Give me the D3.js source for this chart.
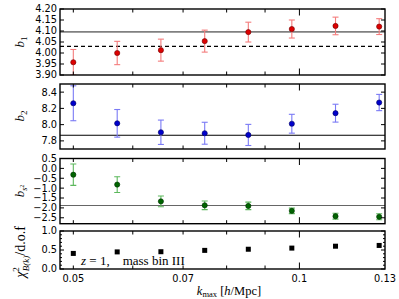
<!DOCTYPE html>
<html>
<head>
<meta charset="utf-8">
<script src="https://cdn.jsdelivr.net/npm/d3@7"></script>
<style>
  body { margin: 0; background: #fff; }
  svg { display: block; }
  .tick-label { font-family: "DejaVu Sans", sans-serif; font-size: 9.8px; fill: #000; }
  .math { font-family: "Liberation Serif", "DejaVu Serif", serif; fill: #000; }
</style>
</head>
<body>
<div id="chart"></div>
<script>
// Chart data
const kmax = [0.05, 0.0572, 0.0654, 0.0748, 0.0855, 0.0977, 0.1117, 0.1277];
const b1 = [3.958, 4.000, 4.013, 4.054, 4.095, 4.109, 4.123, 4.120];
const b1Err = [0.058, 0.053, 0.050, 0.050, 0.045, 0.041, 0.040, 0.036];
const b2 = [8.263, 8.016, 7.906, 7.894, 7.873, 8.011, 8.141, 8.272];
const b2Err = [0.215, 0.17, 0.15, 0.135, 0.13, 0.116, 0.11, 0.10];
const bs2 = [-0.32, -0.82, -1.67, -1.87, -1.90, -2.15, -2.42, -2.45];
const bs2Err = [0.54, 0.40, 0.27, 0.22, 0.19, 0.14, 0.15, 0.15];
const chi2 = [0.41, 0.45, 0.455, 0.49, 0.52, 0.55, 0.60, 0.62];

const xTickLabels = [0.05, 0.07, 0.1, 0.13];
const xMinorTicks = [0.05, 0.06, 0.07, 0.08, 0.09];
const xMajorTicks = [0.1];

const b1Ticks = [3.90, 3.95, 4.00, 4.05, 4.10, 4.15, 4.20];
const b2Ticks = [7.8, 8.0, 8.2, 8.4];
const bs2Ticks = [0.5, 0.0, -0.5, -1.0, -1.5, -2.0, -2.5];
const chiTicks = [0.0, 0.5, 1.0];
const chiMinor = [0.1, 0.2, 0.3, 0.4, 0.6, 0.7, 0.8, 0.9];

const width = 399, height = 299;
const left = 60, right = 385;

const svg = d3.select('#chart').append('svg')
    .attr('width', width)
    .attr('height', height);

const x = d3.scaleLog().domain([0.048, 0.13]).range([left, right]);

const fmtMinus = s => s.replace('-', '\u2212');

// Panel definitions
const panels = [
    { top: 9, bottom: 75, domain: [3.90, 4.20], ticks: b1Ticks, fmt: d3.format('.2f'),
      values: b1, errors: b1Err, color: '#dd0000', edge: '#700000', errColor: '#f47c7c',
      lines: [{ v: 4.096, color: '#808080', w: 1.6, dash: null }, { v: 4.030, color: '#000', w: 1.1, dash: '4,3' }] },
    { top: 84, bottom: 149, domain: [7.7, 8.5], ticks: b2Ticks, fmt: d3.format('.1f'),
      values: b2, errors: b2Err, color: '#0000cc', edge: '#000060', errColor: '#7a7af5',
      lines: [{ v: 7.869, color: '#000', w: 1.1, dash: null }] },
    { top: 158.5, bottom: 223.7, domain: [-2.8, 0.5], ticks: bs2Ticks, fmt: d3.format('.1f'),
      values: bs2, errors: bs2Err, color: '#006400', edge: '#003000', errColor: '#5cb85c',
      lines: [{ v: -1.88, color: '#666', w: 1.2, dash: null }] },
    { top: 231, bottom: 269, domain: [0, 1], ticks: chiTicks, fmt: d3.format('.1f'),
      values: chi2, errors: null, color: '#000', lines: [], minor: chiMinor }
];

panels.forEach((p, i) => {
    const y = d3.scaleLinear().domain(p.domain).range([p.bottom, p.top]);
    const g = svg.append('g');

    const clipId = 'clip' + i;
    svg.append('clipPath').attr('id', clipId)
        .append('rect')
        .attr('x', left).attr('y', p.top)
        .attr('width', right - left).attr('height', p.bottom - p.top);

    const plot = g.append('g').attr('clip-path', 'url(#' + clipId + ')');

    // reference lines
    p.lines.forEach(l => {
        plot.append('line')
            .attr('x1', left).attr('x2', right)
            .attr('y1', y(l.v)).attr('y2', y(l.v))
            .attr('stroke', l.color)
            .attr('stroke-width', l.w)
            .attr('stroke-dasharray', l.dash);
    });

    // error bars
    if (p.errors) {
        const eb = plot.selectAll('.eb').data(kmax).enter().append('g')
            .attr('stroke', p.errColor).attr('stroke-width', 1.1);
        eb.append('line')
            .attr('x1', d => x(d)).attr('x2', d => x(d))
            .attr('y1', (d, j) => y(p.values[j] + p.errors[j]))
            .attr('y2', (d, j) => y(p.values[j] - p.errors[j]));
        eb.append('line')
            .attr('x1', d => x(d) - 3).attr('x2', d => x(d) + 3)
            .attr('y1', (d, j) => y(p.values[j] + p.errors[j]))
            .attr('y2', (d, j) => y(p.values[j] + p.errors[j]));
        eb.append('line')
            .attr('x1', d => x(d) - 3).attr('x2', d => x(d) + 3)
            .attr('y1', (d, j) => y(p.values[j] - p.errors[j]))
            .attr('y2', (d, j) => y(p.values[j] - p.errors[j]));

        plot.selectAll('.pt').data(kmax).enter().append('circle')
            .attr('cx', d => x(d))
            .attr('cy', (d, j) => y(p.values[j]))
            .attr('r', 2.6)
            .attr('fill', p.color)
            .attr('stroke', p.edge)
            .attr('stroke-width', 0.6);
    } else {
        plot.selectAll('.pt').data(kmax).enter().append('rect')
            .attr('x', d => x(d) - 2.5)
            .attr('y', (d, j) => y(p.values[j]) - 2.5)
            .attr('width', 5).attr('height', 5)
            .attr('fill', '#000');
    }

    // x ticks, top and bottom, inward
    const tk = g.append('g').attr('stroke', '#000').attr('stroke-width', 1);
    xMinorTicks.forEach(t => {
        tk.append('line').attr('x1', x(t)).attr('x2', x(t)).attr('y1', p.bottom).attr('y2', p.bottom - 3.5);
        tk.append('line').attr('x1', x(t)).attr('x2', x(t)).attr('y1', p.top).attr('y2', p.top + 3.5);
    });
    xMajorTicks.forEach(t => {
        tk.append('line').attr('x1', x(t)).attr('x2', x(t)).attr('y1', p.bottom).attr('y2', p.bottom - 6.5);
        tk.append('line').attr('x1', x(t)).attr('x2', x(t)).attr('y1', p.top).attr('y2', p.top + 6.5);
    });

    // y ticks left and right
    p.ticks.forEach(t => {
        tk.append('line').attr('x1', left).attr('x2', left + 4).attr('y1', y(t)).attr('y2', y(t));
        tk.append('line').attr('x1', right).attr('x2', right - 4).attr('y1', y(t)).attr('y2', y(t));
        g.append('text').attr('class', 'tick-label')
            .attr('x', left - 3).attr('y', y(t))
            .attr('dy', '0.35em')
            .attr('text-anchor', 'end')
            .text(fmtMinus(p.fmt(t)));
    });
    if (p.minor) {
        p.minor.forEach(t => {
            tk.append('line').attr('x1', left).attr('x2', left + 2).attr('y1', y(t)).attr('y2', y(t));
            tk.append('line').attr('x1', right).attr('x2', right - 2).attr('y1', y(t)).attr('y2', y(t));
        });
    }

    // frame
    g.append('rect')
        .attr('x', left).attr('y', p.top)
        .attr('width', right - left).attr('height', p.bottom - p.top)
        .attr('fill', 'none')
        .attr('stroke', '#000')
        .attr('stroke-width', 1.4);

    p.y = y;
});

// x tick labels under the last panel
xTickLabels.forEach(t => {
    svg.append('text').attr('class', 'tick-label')
        .attr('x', x(t)).attr('y', 282)
        .attr('text-anchor', 'middle')
        .text(String(t));
});

// y axis labels
function yLabel(cx, cy, size, build) {
    const t = svg.append('text').attr('class', 'math')
        .attr('transform', 'translate(' + cx + ',' + cy + ') rotate(-90)')
        .attr('text-anchor', 'middle')
        .attr('font-size', size);
    build(t);
}
yLabel(24, 42, 13, t => {
    t.append('tspan').attr('font-style', 'italic').text('b');
    t.append('tspan').attr('font-size', 9).attr('dy', 3).text('1');
});
yLabel(24, 116, 13, t => {
    t.append('tspan').attr('font-style', 'italic').text('b');
    t.append('tspan').attr('font-size', 9).attr('dy', 3).text('2');
});
yLabel(24, 191, 13, t => {
    t.append('tspan').attr('font-style', 'italic').text('b');
    t.append('tspan').attr('font-size', 8).attr('font-style', 'italic').attr('dy', 3).text('s');
    t.append('tspan').attr('font-size', 6).attr('dy', -3).text('2');
});
yLabel(25, 252, 14, t => {
    t.append('tspan').attr('font-style', 'italic').text('\u03c7');
    t.append('tspan').attr('font-size', 9).attr('dy', -6).text('2');
    t.append('tspan').attr('font-size', 9).attr('font-style', 'italic').attr('dx', -4).attr('dy', 10).text('B(k)');
    t.append('tspan').attr('dy', -4).text('/d.o.f');
});

// x axis label
const xl = svg.append('text').attr('class', 'math')
    .attr('x', 229).attr('y', 295)
    .attr('text-anchor', 'middle')
    .attr('font-size', 12.5);
xl.append('tspan').attr('font-style', 'italic').text('k');
xl.append('tspan').attr('font-size', 8.5).attr('dy', 2).text('max');
xl.append('tspan').attr('dy', -2).text(' [');
xl.append('tspan').attr('font-style', 'italic').text('h');
xl.append('tspan').text('/Mpc]');

// annotation in the last panel
const ann = svg.append('text').attr('class', 'math')
    .attr('x', 81).attr('y', 265)
    .attr('font-size', 13);
ann.append('tspan').attr('font-style', 'italic').text('z');
ann.append('tspan').text(' = 1,\u2003mass bin III');
</script>
</body>
</html>
